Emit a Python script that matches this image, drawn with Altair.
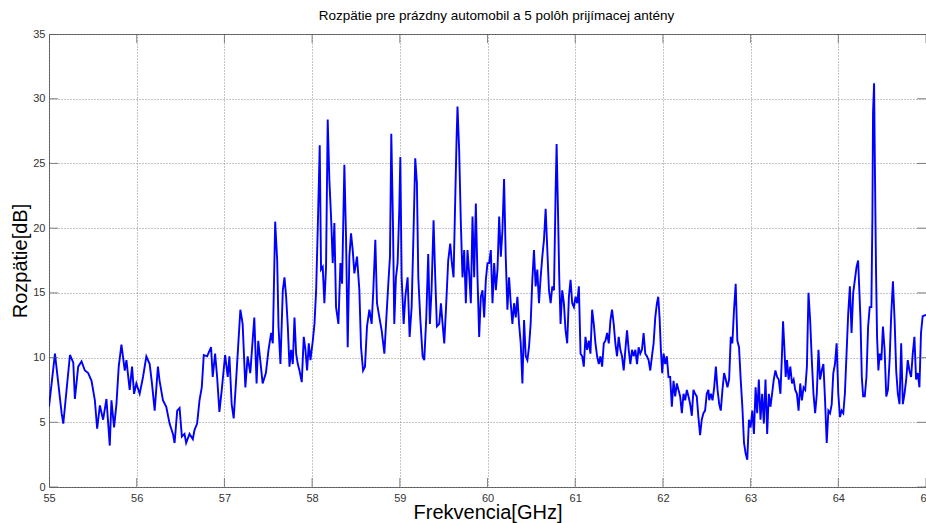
import altair as alt
import pandas as pd

# --- trace, in segments (GHz, dB) ---
freq_1 = [55.000, 55.068, 55.144, 55.163, 55.239, 55.277, 55.295, 55.333, 55.371, 55.409,
          55.447, 55.485, 55.523, 55.549, 55.580, 55.617, 55.655, 55.693, 55.712, 55.742,
          55.769, 55.795, 55.826, 55.864, 55.883, 55.920, 55.947, 55.970, 55.996, 56.034,
          56.072, 56.110, 56.148, 56.174, 56.205, 56.242, 56.261, 56.299, 56.337, 56.375,
          56.413, 56.432, 56.462, 56.489, 56.515, 56.545, 56.564, 56.602, 56.640, 56.659,
          56.689, 56.716, 56.742, 56.765, 56.803, 56.848, 56.867, 56.894, 56.917, 56.943,
          56.970, 57.008, 57.038, 57.057, 57.083, 57.106, 57.133, 57.182, 57.208, 57.239,
          57.265, 57.295, 57.341, 57.367, 57.386, 57.436, 57.473]
db_1 = [6.2, 10.3, 5.7, 4.9, 10.2, 9.6, 6.8, 9.3, 9.7, 9.0,
        8.8, 8.2, 6.7, 4.5, 6.3, 5.2, 6.8, 3.2, 6.7, 4.6,
        6.4, 9.3, 11.0, 9.0, 9.8, 7.5, 9.3, 7.2, 8.0, 7.2,
        8.5, 10.1, 9.5, 8.0, 5.9, 9.3, 8.2, 6.7, 6.2, 4.9,
        4.1, 3.4, 5.9, 6.1, 3.9, 4.1, 3.4, 4.1, 3.7, 4.4,
        4.9, 6.7, 7.7, 10.2, 10.1, 10.8, 8.5, 10.3, 8.5, 5.8,
        7.5, 10.2, 8.5, 10.1, 6.4, 5.3, 8.2, 13.7, 12.6, 7.7,
        10.1, 8.8, 13.1, 8.0, 11.3, 8.0, 8.8]

freq_2 = [57.503, 57.533, 57.552, 57.579, 57.602, 57.617, 57.639, 57.666, 57.685, 57.704,
          57.723, 57.742, 57.761, 57.780, 57.799, 57.818, 57.837, 57.856, 57.882, 57.905,
          57.924, 57.943, 57.962, 57.981, 58.008, 58.027, 58.046, 58.065, 58.087, 58.102,
          58.121, 58.140, 58.159, 58.178, 58.197, 58.216, 58.235, 58.254, 58.273, 58.300,
          58.323, 58.342, 58.368, 58.387, 58.406, 58.425, 58.444, 58.463, 58.482, 58.512,
          58.539, 58.558, 58.581, 58.603, 58.626, 58.653, 58.679, 58.698, 58.721, 58.740,
          58.767, 58.793, 58.824, 58.843, 58.869, 58.888, 58.903, 58.922, 58.937, 58.956,
          58.975, 58.994, 59.006, 59.021, 59.044, 59.063, 59.089, 59.112, 59.135, 59.157,
          59.176, 59.195, 59.211, 59.233, 59.260, 59.279, 59.302, 59.324, 59.343, 59.362,
          59.385, 59.404, 59.423, 59.450, 59.469, 59.488, 59.507, 59.526, 59.552, 59.575,
          59.594, 59.613, 59.632, 59.647, 59.658, 59.677, 59.696, 59.715, 59.734, 59.753,
          59.772, 59.791, 59.810, 59.829, 59.848, 59.867, 59.886, 59.905, 59.924, 59.943,
          59.962, 59.981, 60.000]
db_2 = [10.6, 11.9, 11.1, 20.5, 17.5, 12.4, 9.5, 15.2, 16.2, 14.7,
        12.4, 9.3, 10.6, 9.5, 13.1, 10.3, 9.5, 9.0, 8.1, 11.6,
        10.6, 9.0, 11.1, 9.8, 11.3, 12.6, 15.2, 20.1, 26.4, 16.8,
        17.0, 14.2, 17.0, 28.4, 23.7, 20.9, 17.3, 20.4, 13.9, 12.6,
        17.3, 15.7, 24.9, 19.3, 10.8, 17.8, 19.6, 18.3, 16.5, 17.8,
        15.2, 10.8, 9.0, 9.3, 12.4, 13.7, 12.6, 15.2, 19.1, 14.2,
        13.1, 12.1, 10.3, 12.6, 15.7, 17.8, 27.3, 20.4, 12.6, 16.2,
        17.3, 21.4, 25.5, 16.2, 12.6, 14.7, 16.2, 11.6, 13.9, 19.8,
        25.4, 23.5, 16.2, 13.1, 10.1, 9.8, 13.1, 18.0, 12.6, 15.2,
        20.6, 16.2, 12.4, 12.6, 14.2, 12.6, 11.1, 13.7, 17.5, 18.8,
        17.3, 16.2, 22.2, 26.8, 29.4, 26.0, 20.4, 16.2, 18.3, 14.2,
        18.3, 16.5, 14.2, 20.9, 16.2, 21.9, 16.2, 11.6, 14.7, 15.2,
        13.1, 16.0, 17.3]

freq_3 = [60.019, 60.038, 60.057, 60.076, 60.095, 60.114, 60.133, 60.152, 60.170, 60.189,
          60.208, 60.227, 60.246, 60.265, 60.284, 60.303, 60.322, 60.341, 60.360, 60.379,
          60.398, 60.417, 60.436, 60.455, 60.473, 60.492, 60.511, 60.530, 60.549, 60.568,
          60.587, 60.606, 60.625, 60.644, 60.663, 60.682, 60.701, 60.720, 60.739, 60.758,
          60.777, 60.788, 60.803, 60.818, 60.833, 60.852, 60.871, 60.890, 60.909, 60.928,
          60.947, 60.966, 60.985, 61.004, 61.023, 61.042, 61.061, 61.080, 61.098, 61.117,
          61.136, 61.155, 61.174, 61.193, 61.212, 61.231, 61.250, 61.269, 61.288, 61.307,
          61.326, 61.345, 61.364, 61.383, 61.402, 61.420, 61.439, 61.458, 61.477, 61.496,
          61.515, 61.534, 61.553, 61.572, 61.591, 61.610, 61.629, 61.648, 61.667, 61.686,
          61.705, 61.723, 61.742, 61.761, 61.780, 61.799, 61.818, 61.837, 61.856, 61.875,
          61.894, 61.913, 61.932, 61.947, 61.962, 61.977, 61.992, 62.008, 62.027, 62.045,
          62.064, 62.083, 62.102, 62.121, 62.140, 62.159, 62.178, 62.197, 62.216, 62.235,
          62.254, 62.273, 62.292, 62.311, 62.330, 62.348, 62.367, 62.386, 62.405, 62.424,
          62.443, 62.462, 62.481, 62.500, 62.519]
db_3 = [17.3, 18.3, 14.2, 17.3, 15.2, 16.8, 20.9, 17.8, 19.8, 23.8,
        17.8, 13.7, 16.2, 14.2, 12.6, 14.2, 13.1, 14.7, 12.6, 11.1,
        8.0, 12.9, 10.1, 9.8, 10.8, 12.6, 16.0, 18.3, 15.5, 16.8,
        14.2, 16.2, 17.8, 19.1, 21.5, 18.3, 15.2, 14.2, 15.5, 15.2,
        22.9, 26.5, 21.6, 16.2, 12.6, 15.2, 14.2, 12.1, 11.1, 14.7,
        16.0, 14.2, 13.9, 14.7, 14.2, 15.5, 10.3, 10.1, 9.3, 11.6,
        10.6, 11.3, 10.3, 13.7, 12.6, 11.1, 10.1, 9.5, 10.1, 9.3,
        11.1, 11.3, 11.9, 11.1, 12.9, 13.7, 12.6, 11.1, 10.1, 11.6,
        10.6, 10.1, 9.0, 10.6, 12.1, 10.6, 9.5, 10.6, 10.1, 10.6,
        9.5, 10.8, 10.3, 10.6, 11.9, 10.3, 10.1, 9.8, 9.0, 10.1,
        11.1, 13.1, 14.2, 14.7, 13.1, 10.6, 8.8, 10.3, 9.5, 10.1,
        8.5, 8.5, 6.2, 8.2, 7.0, 8.0, 7.5, 7.0, 5.7, 7.2,
        6.7, 7.5, 7.0, 6.4, 5.5, 7.5, 7.2, 7.0, 5.4, 4.0,
        5.2, 5.7, 5.9, 7.2, 7.5]

freq_4 = [62.528, 62.547, 62.566, 62.585, 62.604, 62.623, 62.642, 62.660, 62.679, 62.698,
          62.717, 62.736, 62.755, 62.774, 62.792, 62.811, 62.830, 62.849, 62.868, 62.887,
          62.906, 62.925, 62.943, 62.962, 62.981, 63.000, 63.019, 63.038, 63.057, 63.075,
          63.094, 63.113, 63.132, 63.151, 63.170, 63.189, 63.208, 63.226, 63.245, 63.264,
          63.283, 63.302, 63.321, 63.340, 63.358, 63.370, 63.385, 63.400, 63.415, 63.434,
          63.453, 63.472, 63.491, 63.509, 63.528, 63.547, 63.566, 63.585, 63.604, 63.623,
          63.642, 63.660, 63.679, 63.698, 63.717, 63.736, 63.755, 63.774, 63.792, 63.811,
          63.830, 63.849, 63.868, 63.887, 63.906, 63.925, 63.943, 63.962, 63.981, 64.000,
          64.019, 64.038, 64.057, 64.075, 64.094, 64.113, 64.132, 64.151, 64.170, 64.189,
          64.208, 64.226, 64.238, 64.253, 64.268, 64.283, 64.302, 64.321, 64.340, 64.358,
          64.377, 64.389, 64.396, 64.408, 64.419, 64.430, 64.442, 64.457, 64.472, 64.491,
          64.509, 64.528, 64.547, 64.566, 64.585, 64.604, 64.623, 64.642, 64.660, 64.679,
          64.698, 64.717, 64.736, 64.755, 64.774, 64.792, 64.811, 64.830, 64.849, 64.868,
          64.887, 64.906, 64.925, 64.943, 64.962, 65.000]
db_4 = [6.7, 7.2, 6.7, 7.7, 9.3, 7.5, 6.4, 5.9, 7.5, 8.8,
        8.3, 7.7, 8.3, 11.6, 11.1, 13.7, 15.7, 11.3, 10.8, 8.3,
        6.2, 3.4, 2.6, 2.1, 5.2, 4.6, 5.9, 4.1, 7.7, 5.7,
        8.3, 5.2, 7.2, 4.9, 8.3, 4.1, 7.2, 6.2, 7.2, 8.3,
        9.0, 8.5, 8.3, 7.2, 10.3, 12.8, 10.8, 8.5, 9.8, 8.3,
        9.3, 8.0, 8.3, 7.5, 7.2, 5.9, 8.0, 6.7, 7.7, 7.5,
        9.3, 15.0, 12.9, 9.8, 7.2, 5.7, 7.2, 10.6, 8.3, 9.0,
        9.5, 6.7, 3.4, 5.9, 5.7, 6.4, 8.8, 9.5, 11.1, 7.2,
        5.4, 5.9, 5.7, 7.2, 10.3, 13.4, 15.5, 11.9, 15.0, 16.0,
        17.0, 17.5, 15.5, 12.9, 8.5, 7.0, 7.0, 8.5, 12.4, 13.9,
        13.9, 20.9, 28.9, 31.2, 23.7, 16.8, 11.6, 9.0, 10.3, 9.8,
        12.4, 10.6, 7.0, 7.5, 9.8, 13.4, 15.9, 12.9, 9.0, 7.2,
        6.4, 11.1, 6.4, 7.2, 8.3, 9.8, 9.0, 8.5, 10.3, 11.6,
        8.3, 8.8, 7.7, 11.9, 13.2, 13.3]

x_ticks = [55, 56, 57, 58, 59, 60, 61, 62, 63, 64, 65]
y_ticks = [0, 5, 10, 15, 20, 25, 30, 35]

freq = freq_1 + freq_2 + freq_3 + freq_4
db = db_1 + db_2 + db_3 + db_4
df = pd.DataFrame({"f": freq, "r": db})

ytick_df = pd.DataFrame([{"f": e, "r": v} for e in (55, 65) for v in y_ticks])
xtick_df = pd.DataFrame([{"f": v, "r": e} for e in (0, 35) for v in x_ticks])

xs = alt.Scale(domain=[55, 65], nice=False, zero=False)
ys = alt.Scale(domain=[0, 35], nice=False, zero=False)

FONT = "Liberation Sans"
common = dict(domain=False, ticks=False, labelFont=FONT, labelFontSize=11,
              labelColor="#333333", labelFlush=False, labelOverlap=False,
              titleFont=FONT, titleFontSize=20, titleFontWeight="normal",
              titleColor="black", grid=True, gridColor="#8a8a8a",
              gridDash=[1, 2], gridWidth=1, gridOpacity=1)

x_axis = alt.Axis(values=x_ticks, title="Frekvencia[GHz]", labelPadding=5,
                  titleX=438.5, titleY=31, titleBaseline="alphabetic",
                  titleAnchor="middle", **common)
y_axis = alt.Axis(values=y_ticks, title="Rozpätie[dB]", labelPadding=4,
                  titleX=-23, titleY=226.5, titleBaseline="alphabetic",
                  titleAngle=270, **common)

X = alt.X("f:Q", scale=xs, axis=x_axis)
Y = alt.Y("r:Q", scale=ys, axis=y_axis)

line = alt.Chart(df).mark_line(color="#0000ff", strokeWidth=1.9, clip=True).encode(x=X, y=Y)

yt = alt.Chart(ytick_df).mark_tick(orient="horizontal", size=18, thickness=1,
                                   color="#555555", clip=True).encode(x=X, y=Y)
xt = alt.Chart(xtick_df).mark_tick(orient="vertical", size=18, thickness=1,
                                   color="#555555", clip=True).encode(x=X, y=Y)

chart = alt.layer(line, yt, xt).properties(
    width=877, height=453,
    autosize="none",
    background="white",
    padding={"left": 49, "top": 34, "right": 0, "bottom": 36},
    title=alt.TitleParams("Rozpätie pre prázdny automobil a 5 polôh prijímacej antény",
                          font=FONT, fontSize=13.5, fontWeight="normal", color="black",
                          offset=6, dx=9),
).configure_view(stroke="#555555", strokeWidth=1)

chart.save("out.html", embed_options={"renderer": "svg", "actions": False})
